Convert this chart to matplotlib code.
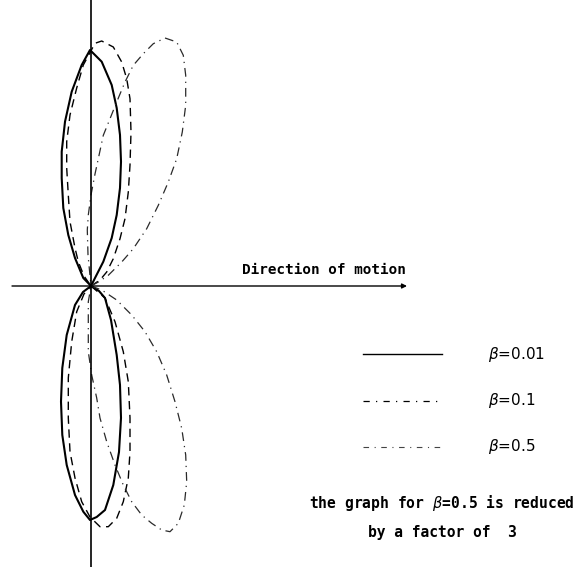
import matplotlib
matplotlib.use("Agg")
import matplotlib.pyplot as plt

# lobe outlines (x, y relative to the origin, pixels)
beta_values = ["0.01", "0.1", "0.5"]

upper_001_x = [0, 4, 12.3, 20.7, 25.7, 29, 30, 29, 25.7, 20.7, 10.7, -1,
               -9.3, -19.3, -26, -29.3, -29.3, -27.7, -22.7, -16, -7.7, 0]
upper_001_y = [0, 8, 24.3, 48, 71, 98, 124.3, 151, 178, 201, 224.3, 236,
               221, 194.3, 164.3, 134.3, 108, 78, 51, 28, 8, 0]
lower_001_x = [0, 8, 14, 20, 25.7, 29, 30, 28, 22.3, 14, 5.7, -1,
               -7.7, -16, -24.3, -28.7, -30, -28.7, -24.3, -16, -8, 0]
lower_001_y = [0, -5, -12, -34, -69, -99, -132, -166, -199, -224, -231, -234,
               -225.7, -209, -179, -149, -115.7, -82, -49, -19, -6, 0]

upper_01_x = [0, 9, 15.7, 22.3, 29, 34, 37.3, 39, 40, 39, 35.7, 30.7, 22.3, 10.7, 4,
              -7.7, -14.3, -21, -24.3, -24.3, -22.7, -21, -16, -12.7, -7, 0]
upper_01_y = [0, 6, 14, 27.3, 47.3, 67.3, 94, 121, 154, 187.3, 207.3, 224, 239, 245, 242.7,
              221, 198, 171, 144.3, 118, 91, 64.3, 38, 24.3, 10, 0]
lower_01_x = [0, 14, 24, 32.3, 37.3, 39, 39, 37.3, 32.3, 25.7, 17.3, 9, -1,
              -9.3, -16, -21, -22.7, -22.7, -19.3, -14.3, -7, 0]
lower_01_y = [0, -12, -35.7, -65.7, -95.7, -132, -165.7, -192, -215.7, -232.3, -240.7, -240.7, -231,
              -215.7, -192, -165.7, -132, -92, -55.7, -25.7, -8, 0]

upper_05_x = [0, 7.3, 17.3, 30.7, 42.3, 55.7, 67.3, 77.3, 85.7, 91.3, 94.7, 94.7, 92.3, 85.7,
              74, 62.3, 52.3, 42.3, 34, 25.7, 19, 12.3, 7.3, 4, 0, -2.7, -3.7, -3, 0]
upper_05_y = [0, 4, 10.7, 24, 37.3, 57.3, 80.7, 104, 127.3, 154, 180.7, 210.7, 230.7, 244,
              248, 242.3, 232.3, 220.7, 204, 184, 167.3, 150.7, 127.3, 112, 91, 71, 56, 31, 0]
lower_05_x = [0, 10.7, 25.7, 40.7, 54, 65.7, 75.7, 84, 90.7, 94.7, 95.7, 93.3, 87.3, 79,
              70.7, 60.7, 50.7, 40.7, 32.3, 24, 15.7, 9, 5.7, 0.7, -2.7, -2.7, 0]
lower_05_y = [0, -4, -14, -29, -45.7, -65.7, -89, -115.7, -142.3, -169, -195.7, -219, -237.3, -245.7,
              -244, -237.3, -229, -215.7, -199, -179, -155.7, -132, -112, -89, -65.7, -15.7, 0]

plt.rcParams["mathtext.fontset"] = "dejavusans"

fig = plt.figure(figsize=(5.74, 5.67), dpi=100)
ax = fig.add_axes([0, 0, 1, 1])
ax.set_xlim(-91, 483)
ax.set_ylim(-281, 286)
ax.axis("off")

styles = [
    dict(color="black", lw=1.5, ls="-", solid_joinstyle="round"),
    dict(color="black", lw=1.0, ls=(0, (6, 4))),
    dict(color="#2a2a2a", lw=0.9, ls=(0, (7, 4, 1, 4))),
]

curves = [
    (upper_001_x, upper_001_y, lower_001_x, lower_001_y),
    (upper_01_x, upper_01_y, lower_01_x, lower_01_y),
    (upper_05_x, upper_05_y, lower_05_x, lower_05_y),
]
for (ux, uy, lx, ly), st in zip(curves, styles):
    ax.plot(ux, uy, **st)
    ax.plot(lx, ly, **st)

# axes
ax.plot([0, 0], [-281, 286], color="black", lw=1.2)
ax.annotate("", xy=(316, 0), xytext=(-79, 0),
            arrowprops=dict(arrowstyle="-|>", color="black", lw=1.0,
                            mutation_scale=7, shrinkA=0, shrinkB=0))
ax.text(151, 16, "Direction of motion", family="DejaVu Sans Mono",
        fontsize=10.3, fontweight="bold", va="center", ha="left")

# legend drawn by hand
leg_styles = [
    dict(color="black", lw=1.0, ls="-"),
    dict(color="black", lw=0.9, ls=(0, (5, 5, 1, 5))),
    dict(color="#444444", lw=0.8, ls=(0, (5, 5, 1, 5))),
]
for i, (b, st) in enumerate(zip(beta_values, leg_styles)):
    yy = -68 - i * 46.5
    ax.plot([272, 351], [yy, yy], **st)
    ax.text(397, yy, r"$\beta$=" + b, family="DejaVu Sans", fontsize=11,
            va="center", ha="left")

ax.text(351, -217, r"the graph for $\beta$=0.5 is reduced", family="DejaVu Sans Mono",
        fontsize=10.5, fontweight="bold", va="center", ha="center")
ax.text(351, -246, "by a factor of  3", family="DejaVu Sans Mono",
        fontsize=10.5, fontweight="bold", va="center", ha="center")

plt.savefig("out.png", dpi=100)
